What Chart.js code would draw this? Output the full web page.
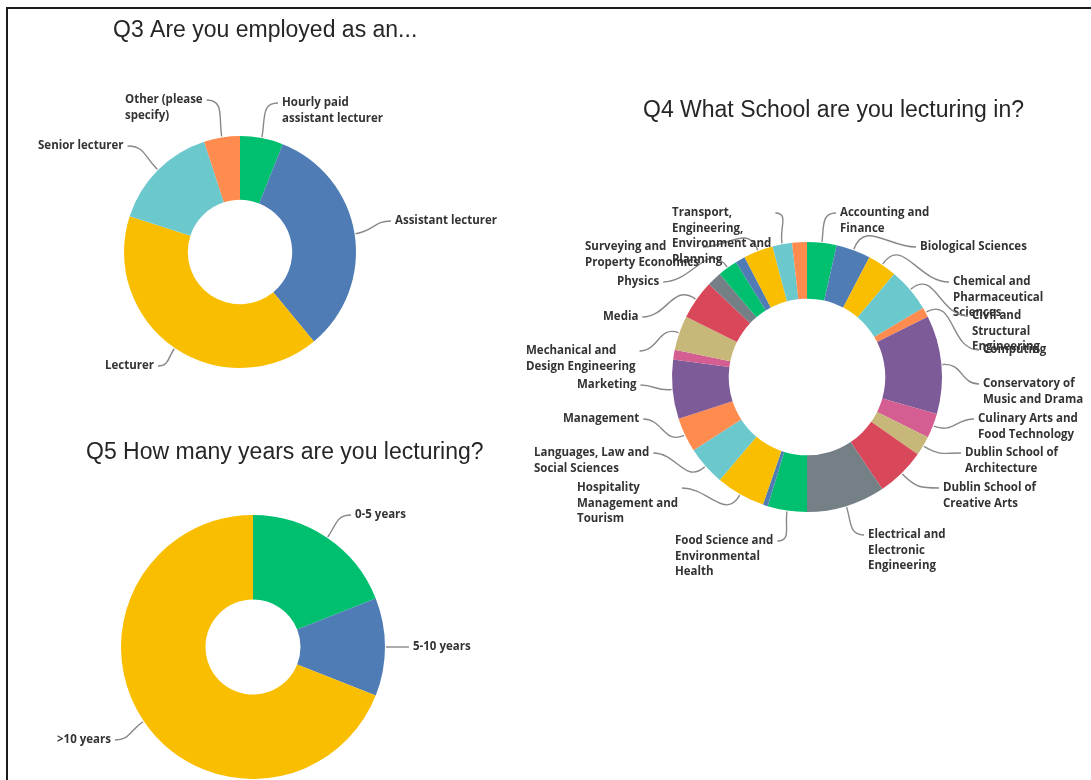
<!DOCTYPE html>
<html>
<head>
<meta charset="utf-8">
<script src="https://cdn.jsdelivr.net/npm/chart.js@4.4.1/dist/chart.umd.min.js"></script>
<style>
  html, body { margin: 0; padding: 0; background: #fff; }
  body { width: 1091px; height: 780px; position: relative; overflow: hidden; }
  .frame { position: absolute; left: 6px; top: 7px; right: -4px; bottom: -4px;
           border-top: 2px solid #1c1c1c; border-left: 2px solid #1c1c1c; }
  canvas { position: absolute; left: 0; top: 0; }
</style>
</head>
<body>
<div class="frame"></div>
<canvas id="q3" width="1091" height="780"></canvas>
<canvas id="q4" width="1091" height="780"></canvas>
<canvas id="q5" width="1091" height="780"></canvas>
<script>
// Q3 - employment grade
var q3_labels = [['Hourly paid', 'assistant lecturer'], 'Assistant lecturer', 'Lecturer', 'Senior lecturer', ['Other (please', 'specify)']]
var q3_values = [6, 33, 41, 15, 5]

// Q4 - school (responses)
var q4_labels = [
    ['Accounting and', 'Finance'], 'Biological Sciences', ['Chemical and', 'Pharmaceutical', 'Sciences'],
    ['Civil and', 'Structural', 'Engineering'], 'Computing', ['Conservatory of', 'Music and Drama'],
    ['Culinary Arts and', 'Food Technology'], ['Dublin School of', 'Architecture'], ['Dublin School of', 'Creative Arts'],
    ['Electrical and', 'Electronic', 'Engineering'], ['Food Science and', 'Environmental', 'Health'], '',
    ['Hospitality', 'Management and', 'Tourism'], ['Languages, Law and', 'Social Sciences'], 'Management',
    'Marketing', '', ['Mechanical and', 'Design Engineering'], 'Media', '', 'Physics', '',
    ['Surveying and', 'Property Economics'], ['Transport,', 'Engineering,', 'Environment and', 'Planning'], ''
]
var q4_values = [6, 7, 6, 9, 2, 20, 5, 4, 10, 16, 8, 1, 10, 8, 7, 12, 2, 7, 8, 3, 4, 2, 6, 4, 3]

// Q5 - years lecturing
var q5_labels = ['0-5 years', '5-10 years', '>10 years']
var q5_values = [19, 12, 69]

var palette = ['#00bf6f', '#507cb6', '#f9be00', '#6bc8cd', '#ff8b4f',
               '#7d5a98', '#d45e91', '#c7b879', '#d9475a', '#757f86']

// where each outside label block sits: [left edge, first line] from the donut centre
var q3_spots = [[42, -149], [155, -31], [-135, 114], [-202, -106], [-115, -152]]
var q4_spots = [
    [33, -164], [113, -130], [146, -95], [165, -61], [176, -27], [176, 7], [171, 42], [158, 76], [136, 111],
    [61, 158], [-132, 164], null, [-230, 111], [-273, 76], [-244, 42], [-230, 8], null, [-281, -26],
    [-204, -60], null, [-190, -95], null, [-222, -130], [-135, -164], null
]
var q5_spots = [[102, -132], [160, 0], [-196, 93]]

// labels outside the ring with a curved leader line back to the slice
var leaderLabels = {
    id: 'leaderLabels',
    afterDatasetsDraw: function (chart, args, opts) {
        var ctx = chart.ctx
        var meta = chart.getDatasetMeta(0)
        var labels = chart.data.labels
        ctx.save()
        ctx.font = opts.weight + ' ' + opts.size + 'px ' + opts.family
        meta.data.forEach(function (arc, i) {
            var spot = opts.spots[i]
            var text = labels[i]
            if (!spot || !text) return
            var lines = Array.isArray(text) ? text : [text]
            var p = arc.getProps(['x', 'y', 'startAngle', 'endAngle', 'outerRadius'], true)
            var mid = (p.startAngle + p.endAngle) / 2
            var side = Math.cos(mid) >= 0 ? 1 : -1
            var width = Math.max.apply(null, lines.map(function (l) { return ctx.measureText(l).width }))
            var left = p.x + spot[0]
            var top = p.y + spot[1]
            var ax = side > 0 ? left - opts.gap : left + width + opts.gap
            var ay = top
            var sx = p.x + Math.cos(mid) * (p.outerRadius + 1)
            var sy = p.y + Math.sin(mid) * (p.outerRadius + 1)
            var d = Math.hypot(ax - sx, ay - sy)

            ctx.beginPath()
            ctx.moveTo(sx, sy)
            ctx.bezierCurveTo(sx + Math.cos(mid) * d * 0.5, sy + Math.sin(mid) * d * 0.5,
                              ax - side * d * 0.45, ay, ax, ay)
            ctx.strokeStyle = opts.lineColor
            ctx.lineWidth = 1.4
            ctx.stroke()

            ctx.fillStyle = opts.color
            ctx.textAlign = 'left'
            ctx.textBaseline = 'middle'
            lines.forEach(function (l, k) {
                ctx.fillText(l, left, top + k * opts.lineHeight)
            })
        })
        ctx.restore()
    }
}

// question heading, placed freely (the built-in title is tied to the chart area width)
var heading = {
    id: 'heading',
    afterDraw: function (chart, args, opts) {
        var ctx = chart.ctx
        ctx.save()
        ctx.font = opts.size + 'px ' + opts.family
        ctx.fillStyle = opts.color
        ctx.textAlign = 'left'
        ctx.textBaseline = 'middle'
        ctx.fillText(opts.text, opts.x, opts.y)
        ctx.restore()
    }
}

function makeDonut(id, labels, values, cfg) {
    var W = 1091, H = 780
    return new Chart(document.getElementById(id), {
        type: 'doughnut',
        data: {
            labels: labels,
            datasets: [{
                data: values,
                backgroundColor: values.map(function (v, i) { return palette[i % palette.length] }),
                borderWidth: 0
            }]
        },
        options: {
            responsive: false,
            animation: false,
            events: [],
            cutout: cfg.cutout,
            layout: {
                padding: {
                    left: cfg.cx - cfg.r,
                    right: W - (cfg.cx + cfg.r),
                    top: cfg.cy - cfg.r,
                    bottom: H - (cfg.cy + cfg.r)
                }
            },
            plugins: {
                legend: { display: false },
                tooltip: { enabled: false },
                heading: {
                    text: cfg.title,
                    x: cfg.titleX,
                    y: cfg.titleY,
                    size: 23,
                    family: "'Liberation Sans', Arial, sans-serif",
                    color: '#262626'
                },
                leaderLabels: {
                    spots: cfg.spots,
                    family: "'Open Sans', sans-serif",
                    weight: 700,
                    size: cfg.labelSize,
                    lineHeight: 15.5,
                    gap: 4,
                    color: '#333',
                    lineColor: '#888'
                }
            }
        },
        plugins: [leaderLabels, heading]
    })
}

makeDonut('q3', q3_labels, q3_values, {
    title: 'Q3 Are you employed as an...', titleX: 113, titleY: 31,
    cx: 240, cy: 252, r: 116, cutout: '45%', spots: q3_spots, labelSize: 11.5
})

makeDonut('q4', q4_labels, q4_values, {
    title: 'Q4 What School are you lecturing in?', titleX: 643, titleY: 111,
    cx: 807, cy: 377, r: 135, cutout: '58%', spots: q4_spots, labelSize: 11.5
})

makeDonut('q5', q5_labels, q5_values, {
    title: 'Q5 How many years are you lecturing?', titleX: 86, titleY: 453,
    cx: 253, cy: 647, r: 132, cutout: '36%', spots: q5_spots, labelSize: 11.5
})
</script>
</body>
</html>
